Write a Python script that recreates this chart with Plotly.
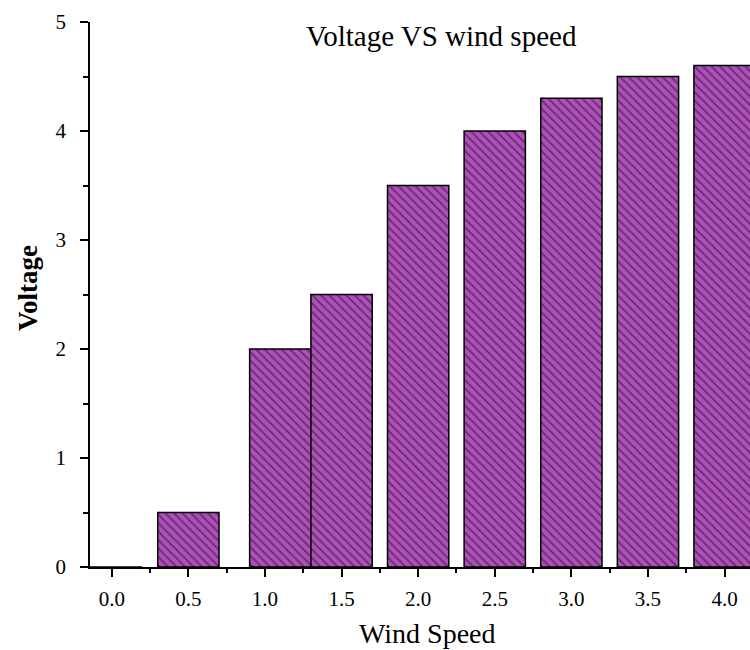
import plotly.graph_objects as go

wind_speed = [0.0, 0.5, 1.1, 1.5, 2.0, 2.5, 3.0, 3.5, 4.0]
voltage = [0.0, 0.5, 2.0, 2.5, 3.5, 4.0, 4.3, 4.5, 4.6]
x_ticks = [0.0, 0.5, 1.0, 1.5, 2.0, 2.5, 3.0, 3.5, 4.0]
x_tick_labels = ["0.0", "0.5", "1.0", "1.5", "2.0", "2.5", "3.0", "3.5", "4.0"]
y_ticks = [0, 1, 2, 3, 4, 5]

FONT = "Liberation Serif, Times New Roman, serif"
PURPLE = "#B04EBC"

fig = go.Figure()
fig.add_trace(go.Bar(
    x=wind_speed, y=voltage, width=0.4,
    marker=dict(
        color=PURPLE,
        line=dict(color="black", width=1.5),
        pattern=dict(shape="\\", fgcolor="#111111", bgcolor=PURPLE, size=6, solidity=0.3),
    ),
    showlegend=False,
))

fig.update_layout(
    width=750, height=650,
    margin=dict(l=90, r=0, t=22, b=83),
    paper_bgcolor="white", plot_bgcolor="white",
    font=dict(family=FONT, color="black"),
    xaxis=dict(
        range=[-0.142, 4.166], tickvals=x_ticks, ticktext=x_tick_labels,
        showgrid=False, zeroline=False, showline=True, linecolor="black", linewidth=1.5,
        ticks="outside", ticklen=8, tickwidth=1.5, tickcolor="black",
        tickfont=dict(family=FONT, size=21, color="black"),
        minor=dict(dtick=0.25, tick0=0.25, ticks="outside", ticklen=4, tickwidth=1.5, tickcolor="black"),
        ticklabelstandoff=4,
    ),
    yaxis=dict(
        range=[0, 5], tickvals=y_ticks,
        showgrid=False, zeroline=False, showline=True, linecolor="black", linewidth=1.5,
        ticks="outside", ticklen=8, tickwidth=1.5, tickcolor="black",
        tickfont=dict(family=FONT, size=21, color="black"),
        minor=dict(dtick=0.5, tick0=0.5, ticks="outside", ticklen=5, tickwidth=1.5, tickcolor="black"),
        ticklabelstandoff=10,
    ),
)

# position annotations in pixel terms converted to paper coordinates
plot_left, plot_right, plot_top, plot_bottom = 90, 750, 22, 567
pw, ph = plot_right - plot_left, plot_bottom - plot_top
def px(xp):
    return (xp - plot_left) / pw
def py(yp):
    return (plot_bottom - yp) / ph

fig.update_layout(annotations=[
    dict(text="Voltage VS wind speed", x=px(441), y=py(36), xref="paper", yref="paper",
         xanchor="center", yanchor="middle", showarrow=False,
         font=dict(family=FONT, size=29, color="black")),
    dict(text="Wind Speed", x=px(427), y=py(633), xref="paper", yref="paper",
         xanchor="center", yanchor="middle", showarrow=False,
         font=dict(family=FONT, size=28, color="black")),
    dict(text="<b>Voltage</b>", x=px(28), y=py(288), xref="paper", yref="paper",
         xanchor="center", yanchor="middle", showarrow=False, textangle=-90,
         font=dict(family=FONT, size=27, color="black")),
])

fig.write_html("out.html")
